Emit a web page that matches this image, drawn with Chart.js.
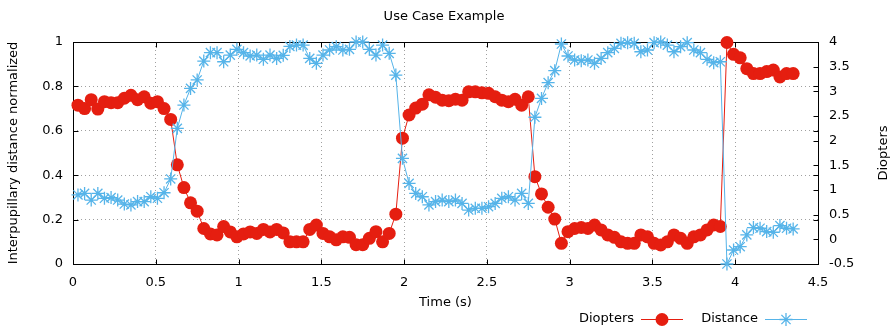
<!DOCTYPE html>
<html>
<head>
<meta charset="utf-8">
<script src="https://cdn.jsdelivr.net/npm/chart.js@4.4.1/dist/chart.umd.min.js"></script>
<style>
  html, body { margin: 0; padding: 0; background: #ffffff; }
  #wrap { width: 894px; height: 329px; position: relative; }
</style>
</head>
<body>
<div id="wrap"><canvas id="c" width="894" height="329"></canvas></div>
<script>
// ---------- data ----------
const chartTitle = 'Use Case Example';
const xTitle = 'Time (s)';
const yTitle = 'Interpupillary distance normalized';
const y2Title = 'Diopters';
const seriesNames = ['Diopters', 'Distance'];

const timeS = [
  0.03, 0.07, 0.11, 0.15, 0.19, 0.23, 0.27, 0.31, 0.35, 0.39,
  0.43, 0.47, 0.51, 0.55, 0.59, 0.63, 0.67, 0.71, 0.75, 0.79,
  0.83, 0.87, 0.91, 0.95, 0.99, 1.03, 1.07, 1.11, 1.15, 1.19,
  1.23, 1.27, 1.31, 1.35, 1.39, 1.43, 1.47, 1.51, 1.55, 1.59,
  1.63, 1.67, 1.71, 1.75, 1.79, 1.83, 1.87, 1.91, 1.95, 1.99,
  2.03, 2.07, 2.11, 2.15, 2.19, 2.23, 2.27, 2.31, 2.35, 2.39,
  2.43, 2.47, 2.51, 2.55, 2.59, 2.63, 2.67, 2.71, 2.75, 2.79,
  2.83, 2.87, 2.91, 2.95, 2.99, 3.03, 3.07, 3.11, 3.15, 3.19,
  3.23, 3.27, 3.31, 3.35, 3.39, 3.43, 3.47, 3.51, 3.55, 3.59,
  3.63, 3.67, 3.71, 3.75, 3.79, 3.83, 3.87, 3.91, 3.95, 3.99,
  4.03, 4.07, 4.11, 4.15, 4.19, 4.23, 4.27, 4.31, 4.35
];

// Diopters (right axis)
const diopters = [
  2.72, 2.65, 2.83, 2.64, 2.79, 2.77, 2.77, 2.86, 2.92, 2.83,
  2.89, 2.76, 2.79, 2.65, 2.43, 1.51, 1.05, 0.74, 0.57, 0.22,
  0.11, 0.09, 0.26, 0.15, 0.05, 0.11, 0.15, 0.12, 0.20, 0.15,
  0.20, 0.13, -0.05, -0.05, -0.05, 0.20, 0.29, 0.12, 0.05, -0.01,
  0.05, 0.04, -0.11, -0.11, 0.02, 0.155, -0.05, 0.12, 0.51, 2.05,
  2.52, 2.66, 2.74, 2.93, 2.88, 2.82, 2.81, 2.84, 2.82, 2.99,
  2.99, 2.97, 2.96, 2.89, 2.82, 2.79, 2.84, 2.72, 2.89, 1.27,
  0.92, 0.65, 0.41, -0.08, 0.155, 0.22, 0.24, 0.22, 0.29, 0.19,
  0.09, 0.04, -0.05, -0.08, -0.08, 0.09, 0.05, -0.08, -0.115, -0.05,
  0.09, 0.02, -0.08, 0.05, 0.09, 0.19, 0.29, 0.26, 3.99, 3.75,
  3.68, 3.46, 3.36, 3.36, 3.40, 3.43, 3.29, 3.36, 3.36
];

// Interpupillary distance normalized (left axis)
const distance = [
  0.311, 0.318, 0.288, 0.318, 0.296, 0.299, 0.288, 0.270, 0.266, 0.281,
  0.281, 0.303, 0.296, 0.321, 0.383, 0.611, 0.716, 0.791, 0.829, 0.914,
  0.952, 0.952, 0.911, 0.941, 0.967, 0.952, 0.937, 0.941, 0.922, 0.941,
  0.926, 0.940, 0.980, 0.986, 0.986, 0.926, 0.904, 0.941, 0.964, 0.979,
  0.964, 0.967, 1.000, 1.000, 0.967, 0.941, 0.986, 0.949, 0.851, 0.476,
  0.363, 0.318, 0.303, 0.266, 0.281, 0.288, 0.281, 0.288, 0.273, 0.243,
  0.251, 0.251, 0.258, 0.273, 0.296, 0.303, 0.288, 0.318, 0.273, 0.661,
  0.746, 0.817, 0.871, 0.991, 0.937, 0.919, 0.916, 0.919, 0.904, 0.926,
  0.952, 0.971, 0.994, 0.997, 0.994, 0.956, 0.964, 0.997, 1.000, 0.986,
  0.956, 0.979, 0.997, 0.964, 0.952, 0.922, 0.907, 0.911, 0.000, 0.063,
  0.078, 0.131, 0.164, 0.161, 0.146, 0.143, 0.173, 0.161, 0.158
];

const xTickValues  = [0, 0.5, 1, 1.5, 2, 2.5, 3, 3.5, 4, 4.5];
const xTickLabels  = ['0', '0.5', '1', '1.5', '2', '2.5', '3', '3.5', '4', '4.5'];
const yTickValues  = [0, 0.2, 0.4, 0.6, 0.8, 1];
const yTickLabels  = ['0', '0.2', '0.4', '0.6', '0.8', '1'];
const y2TickValues = [-0.5, 0, 0.5, 1, 1.5, 2, 2.5, 3, 3.5, 4];
const y2TickLabels = ['-0.5', '0', '0.5', '1', '1.5', '2', '2.5', '3', '3.5', '4'];

// ---------- style ----------
const RED = '#e51e10';
const BLUE = '#56b4e9';
const FONT = 'DejaVu Sans';
const FS = 13;
const STAR_R = 6.5;
const STAR_W = 1.3;

Chart.defaults.font.family = FONT;
Chart.defaults.font.size = FS;
Chart.defaults.color = '#000000';

function setTicks(values) {
  return function (scale) { scale.ticks = values.map(v => ({ value: v })); };
}
function labelFrom(values, labels) {
  return function (value) {
    const i = values.findIndex(v => Math.abs(v - value) < 1e-9);
    return i >= 0 ? labels[i] : '';
  };
}

const framePlugin = {
  id: 'frame',
  beforeDatasetsDraw(chart) {
    const { ctx, chartArea: a, scales } = chart;
    const L = a.left + 0.5, R = a.right + 0.5, T = a.top + 0.5, B = a.bottom + 0.5;
    const tl = 5;
    ctx.save();
    ctx.strokeStyle = '#000000';
    ctx.lineWidth = 1;
    ctx.setLineDash([]);
    ctx.beginPath();
    xTickValues.forEach(v => {
      const px = Math.round(scales.x.getPixelForValue(v)) + 0.5;
      ctx.moveTo(px, B); ctx.lineTo(px, B - tl);
      ctx.moveTo(px, T); ctx.lineTo(px, T + tl);
    });
    yTickValues.forEach(v => {
      const py = Math.round(scales.y.getPixelForValue(v)) + 0.5;
      ctx.moveTo(L, py); ctx.lineTo(L + tl, py);
      ctx.moveTo(R, py); ctx.lineTo(R - tl, py);
    });
    y2TickValues.forEach(v => {
      const py = Math.round(scales.y2.getPixelForValue(v)) + 0.5;
      ctx.moveTo(R, py); ctx.lineTo(R - tl, py);
    });
    ctx.stroke();
    ctx.strokeRect(L, T, R - L, B - T);
    ctx.restore();
  },
  afterDraw(chart) {
    const { ctx, chartArea: a } = chart;
    ctx.save();
    ctx.fillStyle = '#000000';
    ctx.font = FS + 'px "' + FONT + '"';
    // title
    ctx.textAlign = 'center';
    ctx.textBaseline = 'middle';
    ctx.fillText(chartTitle, 444, 17);
    // right axis title, reading bottom-to-top
    ctx.save();
    ctx.translate(884, (a.top + a.bottom) / 2);
    ctx.rotate(-Math.PI / 2);
    ctx.fillText(y2Title, 0, 0);
    ctx.restore();
    // legend
    const ly = 319;
    const items = [
      { name: seriesNames[0], color: RED, textRight: 634, x0: 641, x1: 683, style: 'circle', r: 6.5, fill: true },
      { name: seriesNames[1], color: BLUE, textRight: 758, x0: 765, x1: 807, style: 'star', r: STAR_R, fill: false }
    ];
    items.forEach(it => {
      ctx.fillStyle = '#000000';
      ctx.textAlign = 'right';
      ctx.fillText(it.name, it.textRight, ly);
      ctx.strokeStyle = it.color;
      ctx.lineWidth = 1;
      ctx.beginPath();
      ctx.moveTo(it.x0, ly + 0.5); ctx.lineTo(it.x1, ly + 0.5);
      ctx.stroke();
      ctx.fillStyle = it.color;
      ctx.strokeStyle = it.color;
      ctx.lineWidth = it.fill ? 0 : STAR_W;
      Chart.helpers.drawPoint(ctx, { pointStyle: it.style, radius: it.r, borderWidth: it.fill ? 0 : STAR_W, rotation: 0 }, (it.x0 + it.x1) / 2, ly + 0.5);
    });
    ctx.restore();
  }
};

const gridDash = { display: false, dash: [1, 3] };

new Chart(document.getElementById('c'), {
  type: 'line',
  data: {
    datasets: [
      {
        label: seriesNames[0],
        yAxisID: 'y2',
        data: timeS.map((t, i) => ({ x: t, y: diopters[i] })),
        borderColor: RED,
        backgroundColor: RED,
        borderWidth: 1,
        pointRadius: 6.5,
        pointStyle: 'circle',
        pointBackgroundColor: RED,
        pointBorderWidth: 0,
        tension: 0,
        clip: false,
        order: 1
      },
      {
        label: seriesNames[1],
        yAxisID: 'y',
        data: timeS.map((t, i) => ({ x: t, y: distance[i] })),
        borderColor: BLUE,
        backgroundColor: BLUE,
        borderWidth: 1,
        pointRadius: STAR_R,
        pointStyle: 'star',
        pointBorderColor: BLUE,
        pointBorderWidth: STAR_W,
        tension: 0,
        clip: false,
        order: 0
      }
    ]
  },
  options: {
    responsive: false,
    devicePixelRatio: 1,
    animation: false,
    events: [],
    layout: { padding: { top: 42, left: 0, right: 0, bottom: 0 } },
    plugins: { legend: { display: false }, tooltip: { enabled: false }, title: { display: false } },
    scales: {
      x: {
        type: 'linear', position: 'bottom', min: 0, max: 4.5,
        afterBuildTicks: setTicks(xTickValues),
        afterFit(s) { s.height = 65; },
        ticks: { padding: 11, autoSkip: false, maxRotation: 0, callback: labelFrom(xTickValues, xTickLabels) },
        grid: { color: '#a0a0a0', lineWidth: 1, drawTicks: false },
        border: gridDash,
        title: { display: true, text: xTitle, padding: { top: 0, bottom: 19 } }
      },
      y: {
        type: 'linear', position: 'left', min: 0, max: 1,
        afterBuildTicks: setTicks(yTickValues),
        afterFit(s) { s.width = 73; },
        ticks: { padding: 10, callback: labelFrom(yTickValues, yTickLabels) },
        grid: { color: '#a0a0a0', lineWidth: 1, drawTicks: false },
        border: gridDash,
        title: { display: true, text: yTitle, padding: { top: 6, bottom: 0 } }
      },
      y2: {
        type: 'linear', position: 'right', min: -0.5, max: 4,
        afterBuildTicks: setTicks(y2TickValues),
        afterFit(s) { s.width = 76; },
        ticks: { padding: 11, callback: labelFrom(y2TickValues, y2TickLabels) },
        grid: { drawOnChartArea: false, drawTicks: false },
        border: { display: false }
      }
    }
  },
  plugins: [framePlugin]
});
</script>
</body>
</html>
